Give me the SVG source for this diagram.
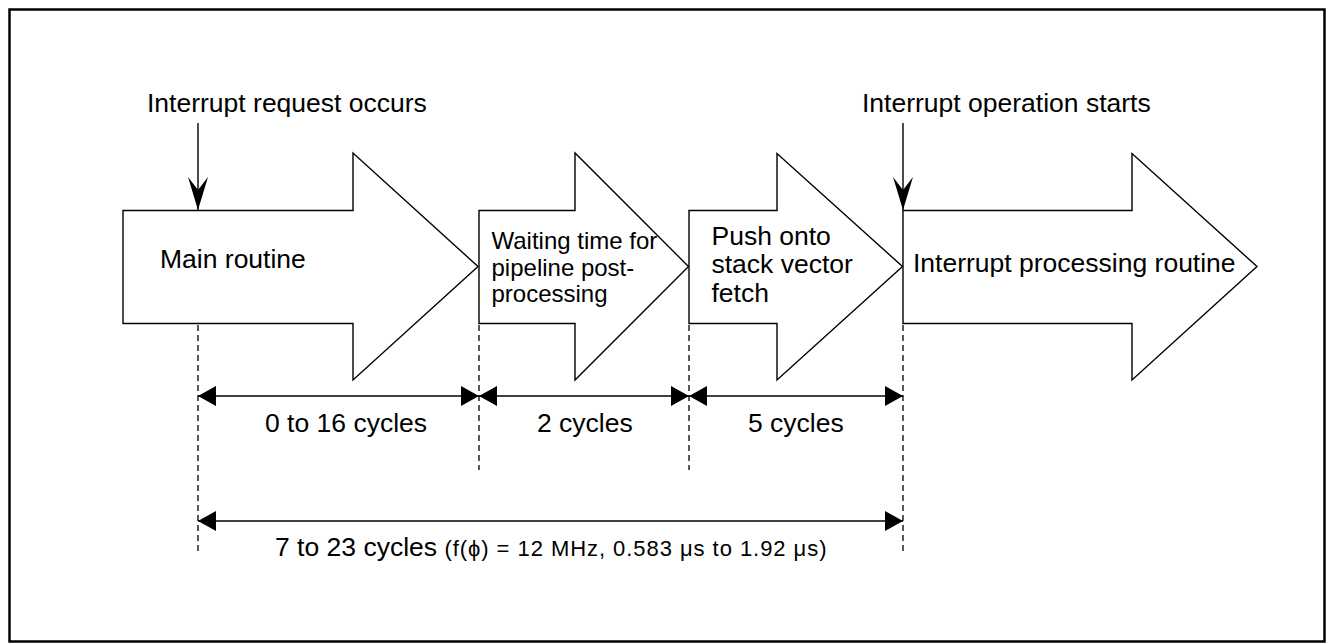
<svg xmlns="http://www.w3.org/2000/svg" width="1327" height="644" viewBox="0 0 1327 644">
<style>
text{font-family:"Liberation Sans",Arial,sans-serif;fill:#000;}
.t26{font-size:26.5px;}
.t24{font-size:24px;}
.shape{fill:#fff;stroke:#000;stroke-width:1.4;stroke-linejoin:miter;}
.dim{stroke:#000;stroke-width:1.4;fill:none;marker-start:url(#tri);marker-end:url(#tri);}
.dash{stroke:#000;stroke-width:1.3;stroke-dasharray:6 4;fill:none;}
.irq{stroke:#000;stroke-width:1.4;fill:none;marker-end:url(#notch);}
</style>
<defs>
<marker id="tri" viewBox="0 0 18 20" refX="18" refY="10" markerWidth="18" markerHeight="20" markerUnits="userSpaceOnUse" orient="auto-start-reverse">
<path d="M0,0 L18,10 L0,20 z" fill="#000"/>
</marker>
<marker id="notch" viewBox="0 0 33 20" refX="33" refY="10" markerWidth="33" markerHeight="20" markerUnits="userSpaceOnUse" orient="auto">
<path d="M0,0 L33,10 L0,20 L13,10 z" fill="#000"/>
</marker>
</defs>
<rect x="9.5" y="9.5" width="1315" height="632" fill="#fff" stroke="#000" stroke-width="2.5"/>

<g id="main-routine">
<polygon class="shape" points="123,210.5 353,210.5 353,153 478,266.5 353,380 353,323.5 123,323.5"/>
<text class="t26" x="160" y="268">Main routine</text>
</g>
<g id="waiting-time">
<polygon class="shape" points="479,210.5 575,210.5 575,153 688.5,266.5 575,380 575,323.5 479,323.5"/>
<text class="t24" x="491.5" y="249">Waiting time for</text>
<text class="t24" x="491.5" y="275.7">pipeline post-</text>
<text class="t24" x="491.5" y="302.3">processing</text>
</g>
<g id="push-stack">
<polygon class="shape" points="689,210.5 777,210.5 777,153.5 902.5,266.5 777,380 777,323.5 689,323.5"/>
<text class="t26" x="711.5" y="245">Push onto</text>
<text class="t26" x="711.5" y="273.3">stack vector</text>
<text class="t26" x="711.5" y="301.7">fetch</text>
</g>
<g id="interrupt-processing">
<polygon class="shape" points="903,210.5 1132,210.5 1132,153.5 1257,266.5 1132,380 1132,323.5 903,323.5"/>
<text class="t26" x="913" y="271.7">Interrupt processing routine</text>
</g>

<g id="label-request">
<text class="t26" x="147" y="112">Interrupt request occurs</text>
</g>
<g id="label-start">
<text class="t26" x="862" y="112">Interrupt operation starts</text>
</g>

<g id="connectors">
<line class="irq" x1="198" y1="123" x2="198" y2="210"/>
<line class="irq" x1="903" y1="123" x2="903" y2="210"/>
<line class="dash" x1="198" y1="325" x2="198" y2="555"/>
<line class="dash" x1="479" y1="325" x2="479" y2="470"/>
<line class="dash" x1="689" y1="325" x2="689" y2="470"/>
<line class="dash" x1="903" y1="325" x2="903" y2="555"/>
<line class="dim" x1="198" y1="396" x2="479" y2="396"/>
<line class="dim" x1="479" y1="396" x2="689" y2="396"/>
<line class="dim" x1="689" y1="396" x2="903" y2="396"/>
<line class="dim" x1="198" y1="521" x2="903" y2="521"/>
</g>

<g id="dimension-labels">
<text class="t26" x="265" y="432">0 to 16 cycles</text>
<text class="t26" x="537" y="432">2 cycles</text>
<text class="t26" x="748" y="432">5 cycles</text>
<text class="t26" x="275" y="556">7 to 23 cycles <tspan style="font-size:22px;letter-spacing:0.95px">(f(ϕ) = 12 MHz, 0.583 μs to 1.92 μs)</tspan></text>
</g>
</svg>
